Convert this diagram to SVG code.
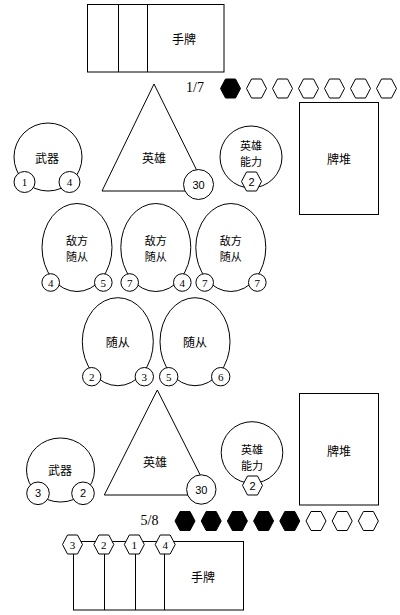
<svg xmlns="http://www.w3.org/2000/svg" xmlns:xlink="http://www.w3.org/1999/xlink" width="400" height="615" viewBox="0 0 400 615">
<style>
.s{fill:#fff;stroke:#000;stroke-width:1}
.n{fill:none;stroke:#000;stroke-width:1}
.k{fill:#000;stroke:#000;stroke-width:1}
.t{font-family:"Noto Sans CJK SC","Liberation Sans",sans-serif;font-size:12px;text-anchor:middle;dominant-baseline:central;fill:#000}
.t2{font-family:"Noto Sans CJK SC","Liberation Sans",sans-serif;font-size:11px;text-anchor:middle;dominant-baseline:central;fill:#000}
.d{font-family:"Liberation Serif",serif;font-size:11px;text-anchor:middle;dominant-baseline:central;fill:#000}
.ds{font-family:"Liberation Sans",sans-serif;font-size:11px;text-anchor:middle;dominant-baseline:central;fill:#000}
.c{font-family:"Liberation Serif",serif;font-size:14px;text-anchor:middle;dominant-baseline:central;fill:#000}
</style>
<defs>
<path id="hex" d="M-10,0 L-5,-9.5 L5,-9.5 L10,0 L5,9.5 L-5,9.5 Z"/>
</defs>
<rect width="400" height="615" fill="#fff"/>

<!-- Top player -->
<g id="top-hand">
<rect class="s" x="87.5" y="4.5" width="136.5" height="67.5"/>
<line class="n" x1="118.5" y1="4.5" x2="118.5" y2="72"/>
<line class="n" x1="147.5" y1="4.5" x2="147.5" y2="72"/>
<text class="t" x="184" y="38">手牌</text>
</g>
<g id="top-mana">
<text class="c" x="195" y="87.5">1/7</text>
<use href="#hex" x="230.5" y="88.5" class="k"/>
<use href="#hex" x="256.5" y="88.5" class="s"/>
<use href="#hex" x="282.5" y="88.5" class="s"/>
<use href="#hex" x="308.5" y="88.5" class="s"/>
<use href="#hex" x="334.5" y="88.5" class="s"/>
<use href="#hex" x="360.5" y="88.5" class="s"/>
<use href="#hex" x="386.5" y="88.5" class="s"/>
</g>
<g id="top-hero">
<polygon class="s" points="154,84 102,191 207,191"/>
<text class="t" x="154" y="157">英雄</text>
<circle class="s" cx="198.5" cy="184.5" r="15"/>
<text class="ds" x="198.5" y="184.5">30</text>
</g>
<g id="top-weapon">
<circle class="s" cx="48" cy="157" r="34"/>
<text class="t" x="47" y="157">武器</text>
<circle class="s" cx="24.5" cy="182" r="10.5"/>
<text class="d" x="24.5" y="182">1</text>
<circle class="s" cx="69.5" cy="182" r="10.5"/>
<text class="d" x="69.5" y="182">4</text>
</g>
<g id="top-power">
<circle class="s" cx="251" cy="157" r="31"/>
<text class="t2" x="251" y="144.5">英雄</text>
<text class="t2" x="251" y="160.5">能力</text>
<use href="#hex" x="251.5" y="181.5" class="s"/>
<text class="ds" x="251.5" y="181.5">2</text>
</g>
<g id="top-deck">
<rect class="s" x="299.5" y="102.5" width="79" height="112"/>
<text class="t" x="339" y="158">牌堆</text>
</g>

<!-- Enemy minions -->
<g id="enemy-minion-1">
<ellipse class="s" cx="77" cy="247.5" rx="35" ry="44"/>
<text class="t2" x="77" y="239.5">敌方</text>
<text class="t2" x="77" y="255.5">随从</text>
<circle class="s" cx="50.7" cy="282.5" r="8.8"/>
<text class="d" x="50.7" y="282.5">4</text>
<circle class="s" cx="103.3" cy="282.5" r="8.8"/>
<text class="d" x="103.3" y="282.5">5</text>
</g>
<g id="enemy-minion-2">
<ellipse class="s" cx="155.8" cy="247.5" rx="35" ry="44"/>
<text class="t2" x="155.8" y="239.5">敌方</text>
<text class="t2" x="155.8" y="255.5">随从</text>
<circle class="s" cx="129.7" cy="282.5" r="8.8"/>
<text class="d" x="129.7" y="282.5">7</text>
<circle class="s" cx="182.3" cy="282.5" r="8.8"/>
<text class="d" x="182.3" y="282.5">4</text>
</g>
<g id="enemy-minion-3">
<ellipse class="s" cx="230.8" cy="247.5" rx="35" ry="44"/>
<text class="t2" x="230.8" y="239.5">敌方</text>
<text class="t2" x="230.8" y="255.5">随从</text>
<circle class="s" cx="204.7" cy="282.5" r="8.8"/>
<text class="d" x="204.7" y="282.5">7</text>
<circle class="s" cx="257.3" cy="282.5" r="8.8"/>
<text class="d" x="257.3" y="282.5">7</text>
</g>

<!-- Friendly minions -->
<g id="minion-1">
<ellipse class="s" cx="117.8" cy="341.7" rx="35.5" ry="44"/>
<text class="t" x="117.8" y="341.7">随从</text>
<circle class="s" cx="91.7" cy="376.7" r="9.2"/>
<text class="d" x="91.7" y="376.7">2</text>
<circle class="s" cx="144.3" cy="376.7" r="9.2"/>
<text class="d" x="144.3" y="376.7">3</text>
</g>
<g id="minion-2">
<ellipse class="s" cx="195" cy="341.7" rx="35" ry="44"/>
<text class="t" x="195" y="341.7">随从</text>
<circle class="s" cx="168.7" cy="376.7" r="9.2"/>
<text class="d" x="168.7" y="376.7">5</text>
<circle class="s" cx="220.7" cy="376.7" r="9.2"/>
<text class="d" x="220.7" y="376.7">6</text>
</g>

<!-- Bottom player -->
<g id="bottom-hero">
<polygon class="s" points="157.3,390 104.3,495 210.3,495"/>
<text class="t" x="155" y="461">英雄</text>
<circle class="s" cx="201.3" cy="489.5" r="14.7"/>
<text class="ds" x="201.3" y="489.5">30</text>
</g>
<g id="bottom-weapon">
<ellipse class="s" cx="60.5" cy="470" rx="34" ry="32"/>
<text class="t" x="60" y="469">武器</text>
<circle class="s" cx="38" cy="493.3" r="11.3"/>
<text class="ds" x="38" y="493.3">3</text>
<circle class="s" cx="83" cy="493.3" r="11.3"/>
<text class="ds" x="83" y="493.3">2</text>
</g>
<g id="bottom-power">
<circle class="s" cx="252" cy="452.5" r="30.8"/>
<text class="t2" x="252" y="448.5">英雄</text>
<text class="t2" x="252" y="464.5">能力</text>
<use href="#hex" x="252.5" y="485.5" class="s"/>
<text class="ds" x="252.5" y="485.5">2</text>
</g>
<g id="bottom-deck">
<rect class="s" x="299.5" y="393.5" width="79" height="111.5"/>
<text class="t" x="339" y="450">牌堆</text>
</g>
<g id="bottom-mana">
<text class="c" x="149.5" y="520.5">5/8</text>
<use href="#hex" x="185" y="521" class="k"/>
<use href="#hex" x="211.2" y="521" class="k"/>
<use href="#hex" x="237.4" y="521" class="k"/>
<use href="#hex" x="263.6" y="521" class="k"/>
<use href="#hex" x="289.8" y="521" class="k"/>
<use href="#hex" x="316" y="521" class="s"/>
<use href="#hex" x="342.2" y="521" class="s"/>
<use href="#hex" x="368.4" y="521" class="s"/>
</g>
<g id="bottom-hand">
<rect class="s" x="73.5" y="541.5" width="170" height="68.5"/>
<line class="n" x1="104.5" y1="541.5" x2="104.5" y2="610"/>
<line class="n" x1="135.5" y1="541.5" x2="135.5" y2="610"/>
<line class="n" x1="164.5" y1="541.5" x2="164.5" y2="610"/>
<text class="t" x="203" y="576">手牌</text>
<use href="#hex" x="72.5" y="544.5" class="s"/>
<text class="d" x="72.5" y="544.5">3</text>
<use href="#hex" x="103.8" y="544.5" class="s"/>
<text class="d" x="103.8" y="544.5">2</text>
<use href="#hex" x="134.3" y="544.5" class="s"/>
<text class="d" x="134.3" y="544.5">1</text>
<use href="#hex" x="165.2" y="544.5" class="s"/>
<text class="d" x="165.2" y="544.5">4</text>
</g>
</svg>
